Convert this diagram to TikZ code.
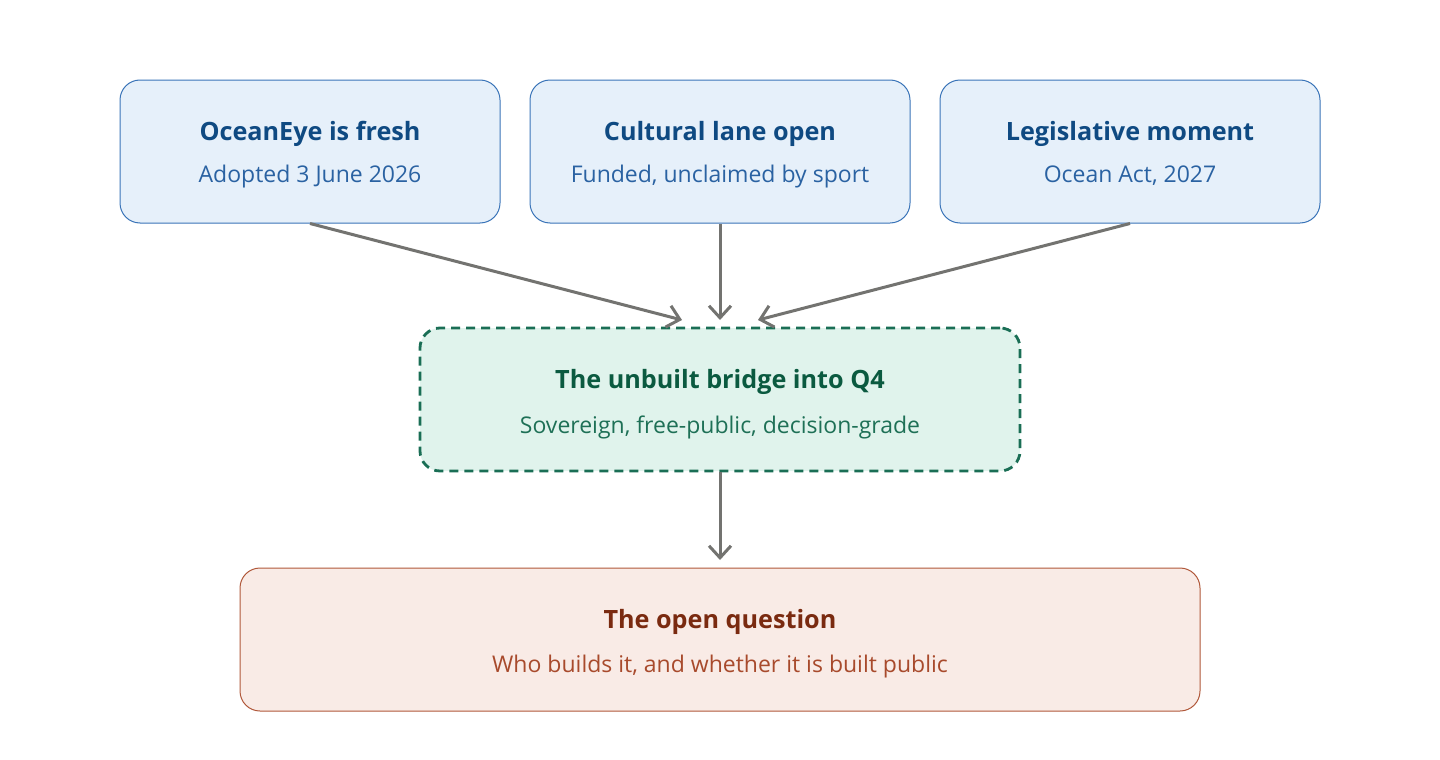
\documentclass[tikz,border=0pt]{standalone}
\usepackage{fontspec}
\setmainfont{Open Sans}
\usetikzlibrary{arrows.meta}
\definecolor{bfill}{HTML}{E6F0FA}
\definecolor{bdraw}{HTML}{3A74B8}
\definecolor{btitle}{HTML}{0F4A82}
\definecolor{bsub}{HTML}{2A62A2}
\definecolor{gfill}{HTML}{E0F3EC}
\definecolor{gdraw}{HTML}{1A6E55}
\definecolor{gtitle}{HTML}{0B5A40}
\definecolor{gsub}{HTML}{1E7056}
\definecolor{rfill}{HTML}{F9EBE6}
\definecolor{rdraw}{HTML}{B0583A}
\definecolor{rtitle}{HTML}{7A2A10}
\definecolor{rsub}{HTML}{A84A2C}
\definecolor{arrowgray}{HTML}{737370}
\tikzset{
  box/.style={rounded corners=20pt, inner sep=0pt},
  bluebox/.style={box, draw=bdraw, fill=bfill, line width=1pt, minimum width=380pt, minimum height=143pt},
  greenbox/.style={box, draw=gdraw, fill=gfill, line width=2.8pt, dash pattern=on 9pt off 6pt, minimum width=600pt, minimum height=143pt},
  redbox/.style={box, draw=rdraw, fill=rfill, line width=1pt, minimum width=960pt, minimum height=143pt},
  ttl/.style={anchor=base, inner sep=0pt, font=\fontsize{25.2}{29}\selectfont\bfseries},
  sub/.style={anchor=base, inner sep=0pt, font=\fontsize{23}{27}\selectfont},
  arr/.style={draw=arrowgray, line width=3pt, -{Straight Barb[length=12pt,width=22pt,line width=3pt]}}
}
\begin{document}
\begin{tikzpicture}[x=1pt,y=-1pt]
\useasboundingbox (0,0) rectangle (1440,760);
\node[bluebox] (a) at (310,151.5) {};
\node[bluebox] (b) at (720,151.5) {};
\node[bluebox] (c) at (1130,151.5) {};
\node[greenbox] (m) at (720,399.5) {};
\node[redbox] (q) at (720,639.5) {};
\node[ttl, text=btitle] (at) at (310,140) {OceanEye is fresh};
\node[sub, text=bsub] (as) at (310,182) {Adopted 3 June 2026};
\node[ttl, text=btitle] (bt) at (720,140) {Cultural lane open};
\node[sub, text=bsub] (bs) at (720,182) {Funded, unclaimed by sport};
\node[ttl, text=btitle] (ct) at (1130,140) {Legislative moment};
\node[sub, text=bsub] (cs) at (1130,182) {Ocean Act, 2027};
\node[ttl, text=gtitle] (mt) at (720,388) {The unbuilt bridge into Q4};
\node[sub, text=gsub] (ms) at (720,433) {Sovereign, free-public, decision-grade};
\node[ttl, text=rtitle] (qt) at (720,628) {The open question};
\node[sub, text=rsub] (qs) at (720,672) {Who builds it, and whether it is built public};
\coordinate (e1) at (682,320);
\coordinate (e2) at (720,320);
\coordinate (e3) at (758,320);
\coordinate (e4) at (720,560);
\draw[arr] (a.south) -- (e1);
\draw[arr] (b.south) -- (e2);
\draw[arr] (c.south) -- (e3);
\draw[arr] (m.south) -- (e4);
\end{tikzpicture}
\end{document}
